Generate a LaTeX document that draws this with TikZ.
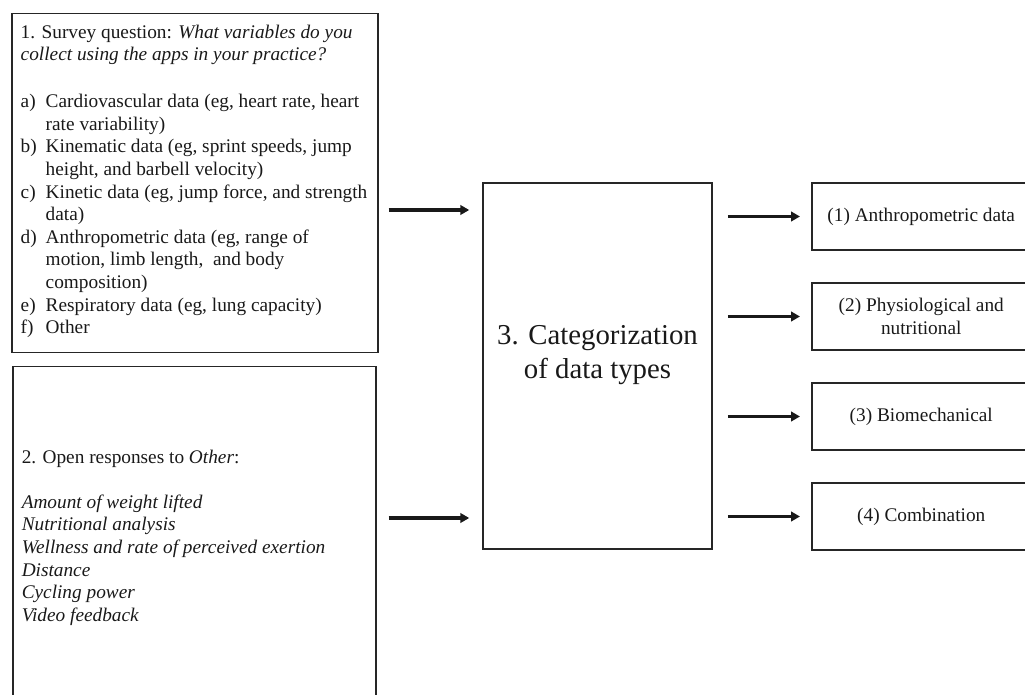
\documentclass[tikz,border=0pt]{standalone}
\usepackage{fontspec}
\setmainfont{Liberation Serif}
\usetikzlibrary{arrows.meta}
\newcommand{\qitem}[2]{\par\hangindent=12.5pt\hangafter=1\noindent\makebox[12.5pt][l]{#1}#2}
\begin{document}
\begin{tikzpicture}[
  x=0.5pt, y=-0.5pt,
  box/.style = {draw=black!85, line width=0.75pt, inner sep=0pt, text=black!90},
  small/.style = {font=\fontsize{9.65}{11.3}\selectfont},
  big/.style = {font=\fontsize{14.4}{16.8}\selectfont},
  arr/.style = {line width=1.6pt, black!90, -{Triangle[length=4.5pt,width=4.8pt]}}
]
  \useasboundingbox (0,0) rectangle (1025,695);
  \node[box, small, anchor=north west, inner xsep=4.5pt] (survey) at (11,13)
    {\parbox[c][169.5pt][t]{176pt}{\raggedright\vspace*{5.5pt}%
      1. Survey question: \textit{What variables do you}\newline
      \textit{collect using the apps in your practice?}\par
      \vspace{12.2pt}%
      \qitem{a)}{Cardiovascular data (eg, heart rate, heart\newline rate variability)}
      \qitem{b)}{Kinematic data (eg, sprint speeds, jump\newline height, and barbell velocity)}
      \qitem{c)}{Kinetic data (eg, jump force, and strength\newline data)}
      \qitem{d)}{Anthropometric data (eg, range of\newline motion, limb length,\ \ and body\newline composition)}
      \qitem{e)}{Respiratory data (eg, lung capacity)}
      \qitem{f)}{Other}\par}\hspace*{-2pt}};
  \node[box, small, anchor=north west, inner xsep=4.5pt] (others) at (12,366)
    {\parbox[c][172pt][t]{172.5pt}{\raggedright\vspace*{41.5pt}%
      2. Open responses to \textit{Other}:\par
      \vspace{11.3pt}%
      \itshape Amount of weight lifted\\
      Nutritional analysis\\
      Wellness and rate of perceived exertion\\
      Distance\\
      Cycling power\\
      Video feedback\par}};
  \node[box, big] (categ) at (597.5,366)
    {\parbox[c][183pt][c]{114.5pt}{\centering 3. Categorization\\of data types\par\vspace{11pt}}};
  \foreach \i/\txt in {1/(1) Anthropometric data, 2/{(2) Physiological and\\nutritional}, 3/(3) Biomechanical, 4/(4) Combination} {
    \node[box, small, anchor=west, align=center, minimum width=109.5pt, minimum height=33.5pt]
      (dtype\i) at (811,116.5+100*\i) {\txt};
    \draw[arr, shorten <=7.5pt, shorten >=5.5pt] (categ.east |- dtype\i.west) -- (dtype\i.west);
  }
  \draw[arr, shorten <=5pt, shorten >=6.5pt] (survey.east |- 0,210) -- (categ.west |- 0,210);
  \draw[arr, shorten <=6pt, shorten >=6.5pt] (others.east |- 0,518) -- (categ.west |- 0,518);
\end{tikzpicture}
\end{document}
